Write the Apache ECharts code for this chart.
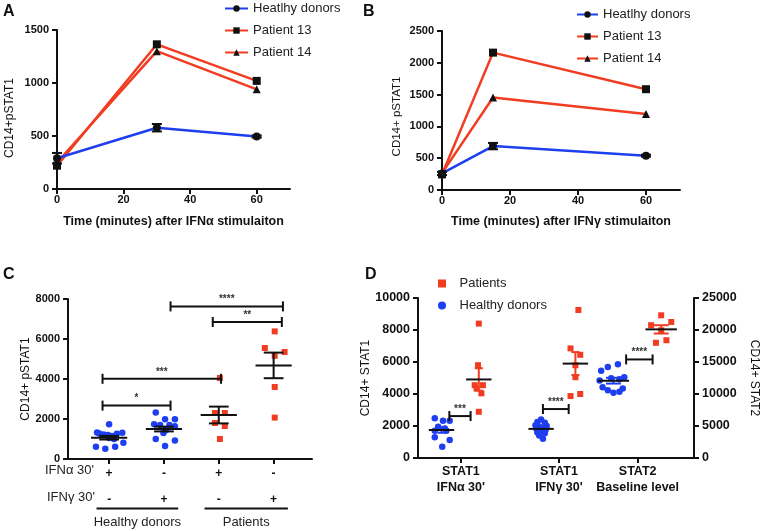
<!DOCTYPE html>
<html><head><meta charset="utf-8">
<script src="https://cdn.jsdelivr.net/npm/echarts@6/dist/echarts.min.js"></script>
<style>html,body{margin:0;padding:0;background:#fff}#c{width:761px;height:531px}</style>
</head><body><div id="c"></div>
<script>
// ---------- Panel A : IFN-alpha time course ----------
const timeA = [0, 30, 60];
const healthyA = [290, 578, 495];
const healthyErrA = [50, 35, 10];
const p13A = [220, 1365, 1020];
const p14A = [250, 1300, 940];
const xTicksA = [0, 20, 40, 60];

// ---------- Panel B : IFN-gamma time course ----------
const timeB = [0, 15, 60];
const healthyB = [260, 690, 540];
const healthyErrB = [25, 50, 15];
const p13B = [245, 2160, 1585];
const p14B = [265, 1455, 1195];
const xTicksB = [0, 20, 40, 60];

// ---------- Panel C : CD14+ pSTAT1 per group ----------
const catC = [1, 2, 3, 4];
const ifnaRow = ['+', '-', '+', '-'];
const ifngRow = ['-', '+', '-', '+'];
const hdIfnaC = [1735, 1320, 1280, 1230, 1200, 1150, 1260, 1310, 1050, 1000, 615, 515, 615, 815];
const hdIfnaCJit = [0.0, -0.22, -0.18, -0.1, -0.02, 0.05, 0.14, 0.24, 0.0, 0.09, -0.24, -0.07, 0.11, 0.26];
const hdIfngC = [2320, 1990, 1990, 1735, 1700, 1700, 1640, 1450, 1300, 1000, 920, 650];
const hdIfngCJit = [-0.15, 0.02, 0.2, -0.18, -0.07, 0.1, 0.2, 0.04, -0.01, -0.15, 0.2, 0.02];
const ptIfnaC = [4050, 2300, 2300, 1800, 1650, 1000];
const ptIfnaCJit = [0.02, -0.07, 0.11, -0.07, 0.11, 0.02];
const ptIfngC = [6380, 5550, 5350, 5160, 3600, 2070];
const ptIfngCJit = [0.02, -0.16, 0.2, 0.02, 0.02, 0.02];
const meanC = [1065, 1500, 2200, 4680];
const semC = [90, 120, 420, 640];
const bracketsC = [[0.88, 2.12, 2670], [0.88, 3.04, 4010], [2.89, 4.15, 6850], [2.12, 4.17, 7630]];
const bracketLabelsC = ['*', '***', '**', '****'];
const groupSpansC = [[0.77, 2.26], [2.74, 4.26]];
const groupNamesC = ['Healthy donors', 'Patients'];

// ---------- Panel D : STAT1 / STAT2 ----------
const posD = [0.63, 1.63, 3.30, 4.22, 5.24, 6.52];   // hd IFNa, pt IFNa, hd IFNg, pt IFNg, hd STAT2, pt STAT2
const labelPosD = [1.15, 3.78, 5.89];
const labelsD = ["STAT1\nIFNα 30'", "STAT1\nIFNγ 30'", "STAT2\nBaseline level"];
const hdIfnaD = [2480, 2330, 2330, 1950, 1850, 1700, 1700, 1290, 1120, 700];
const hdIfnaDJit = [-0.18, 0.04, 0.22, -0.09, 0.09, -0.18, 0.13, -0.18, 0.22, 0.02];
const ptIfnaD = [8400, 5800, 4550, 4550, 4350, 4040, 2890];
const ptIfnaDJit = [0, -0.02, -0.11, 0.11, -0.06, 0.07, 0];
const hdIfngD = [2400, 2250, 2200, 2050, 2000, 1950, 1900, 1800, 1750, 1700, 1600, 1550, 1400, 1200];
const hdIfngDJit = [0, -0.1, 0.1, -0.15, 0.15, -0.05, 0.08, -0.12, 0.12, 0, -0.1, 0.1, -0.05, 0.05];
const ptIfngD = [9250, 6850, 6450, 5800, 5050, 3870, 4000];
const ptIfngDJit = [0.08, -0.13, 0.13, 0, 0, -0.13, 0.13];
const hdStat2D = [14650, 14200, 13650, 12600, 12450, 12300, 12100, 11050, 10850, 10600, 10350, 10200];
const hdStat2DJit = [0.12, -0.15, -0.33, 0.29, -0.06, 0.16, -0.37, -0.29, 0.25, -0.15, 0.16, 0];
const ptStat2D = [22300, 21250, 20750, 19950, 18400, 18000];
const ptStat2DJit = [0, 0.27, -0.27, 0, 0.14, -0.14];
const meanStat1D = [1750, 4910, 1820, 5900];
const semStat1D = [170, 700, 90, 720];
const meanStat2D = [12080, 20100];
const semStat2D = [450, 650];
const bracketsD1 = [[0.84, 1.41, 2620], [3.35, 4.04, 3060]];
const bracketLabelsD1 = ['***', '****'];
const bracketsD2 = [[5.58, 6.29, 15400]];
const bracketLabelsD2 = ['****'];

// ---------- styling ----------
const FONT = '"Liberation Sans", Arial, sans-serif';
const BLUE = '#1e3ff0', RED = '#f23c22', INK = '#111';

function merge(a, b) {
  const out = Array.isArray(a) ? a.slice() : Object.assign({}, a);
  for (const k in b) {
    if (b[k] && typeof b[k] === 'object' && !Array.isArray(b[k]) && a && typeof a[k] === 'object' && !Array.isArray(a[k])) out[k] = merge(a[k], b[k]);
    else out[k] = b[k];
  }
  return out;
}
function ax(extra) {
  return merge({
    type: 'value',
    axisLine: { show: true, onZero: false, lineStyle: { color: INK, width: 2 } },
    axisTick: { show: true, length: 5, lineStyle: { color: INK, width: 2 } },
    axisLabel: { color: INK, fontWeight: 'bold', fontSize: 11, margin: 8, fontFamily: FONT, formatter: (v) => String(v) },
    splitLine: { show: false },
    nameTextStyle: { color: INK, fontSize: 12, fontFamily: FONT }
  }, extra);
}
const pairs = (xs, ys) => xs.map((x, i) => [x, ys[i]]);
const jitter = (c, vals, jit) => vals.map((v, i) => [c + jit[i], v]);

function errRender(cap) {
  return function (params, api) {
    const x = api.value(0), y = api.value(1), e = api.value(2);
    const t = api.coord([x, y + e]), b = api.coord([x, y - e]);
    const st = { stroke: INK, lineWidth: 2 };
    return { type: 'group', children: [
      { type: 'line', shape: { x1: t[0], y1: t[1], x2: b[0], y2: b[1] }, style: st },
      { type: 'line', shape: { x1: t[0] - cap, y1: t[1], x2: t[0] + cap, y2: t[1] }, style: st },
      { type: 'line', shape: { x1: b[0] - cap, y1: b[1], x2: b[0] + cap, y2: b[1] }, style: st }
    ] };
  };
}
function meanRender(mw, cw, semColors) {
  return function (params, api) {
    const x = api.value(0), m = api.value(1), s = api.value(2);
    const a = api.coord([x - mw, m]), b = api.coord([x + mw, m]);
    const t = api.coord([x, m + s]), bt = api.coord([x, m - s]);
    const dx = api.coord([x + cw, m])[0] - api.coord([x, m])[0];
    const sc = semColors ? semColors[params.dataIndex] : INK;
    const st = { stroke: sc, lineWidth: 2 };
    return { type: 'group', children: [
      { type: 'line', shape: { x1: t[0], y1: t[1], x2: bt[0], y2: bt[1] }, style: st },
      { type: 'line', shape: { x1: t[0] - dx, y1: t[1], x2: t[0] + dx, y2: t[1] }, style: st },
      { type: 'line', shape: { x1: bt[0] - dx, y1: bt[1], x2: bt[0] + dx, y2: bt[1] }, style: st },
      { type: 'line', shape: { x1: a[0], y1: a[1], x2: b[0], y2: b[1] }, style: { stroke: INK, lineWidth: 2 } }
    ] };
  };
}
function bracketRender(labels) {
  return function (params, api) {
    const x1 = api.value(0), x2 = api.value(1), y = api.value(2);
    const a = api.coord([x1, y]), b = api.coord([x2, y]);
    const st = { stroke: INK, lineWidth: 2 };
    return { type: 'group', children: [
      { type: 'line', shape: { x1: a[0], y1: a[1], x2: b[0], y2: b[1] }, style: st },
      { type: 'line', shape: { x1: a[0], y1: a[1] - 5, x2: a[0], y2: a[1] + 5 }, style: st },
      { type: 'line', shape: { x1: b[0], y1: b[1] - 5, x2: b[0], y2: b[1] + 5 }, style: st },
      { type: 'text', x: (a[0] + b[0]) / 2, y: a[1] - 2, style: { text: labels[params.dataIndex], fill: '#333', fontSize: 10, fontWeight: 'bold', fontFamily: FONT, align: 'center', verticalAlign: 'bottom' } }
    ] };
  };
}
function groupRender(params, api) {
  const a = api.coord([api.value(0), 0]), b = api.coord([api.value(1), 0]);
  return { type: 'group', children: [
    { type: 'line', shape: { x1: a[0], y1: a[1] + 49.5, x2: b[0], y2: b[1] + 49.5 }, style: { stroke: INK, lineWidth: 2 } },
    { type: 'text', x: (a[0] + b[0]) / 2, y: a[1] + 63, style: { text: groupNamesC[params.dataIndex], fill: '#222', fontSize: 13, fontFamily: FONT, align: 'center', verticalAlign: 'middle' } }
  ] };
}

const lineSeries = (name, xi, data, color, symbol) => ({
  type: 'line', name, xAxisIndex: xi, yAxisIndex: xi, data,
  symbol, symbolSize: 8,
  lineStyle: { color, width: 2.5 }, itemStyle: { color: INK }, z: 3
});
const legendText = { fontSize: 13, color: '#222', fontFamily: FONT };

const option = {
  animation: false,
  backgroundColor: '#fff',
  textStyle: { fontFamily: FONT },
  grid: [
    { left: 57, top: 30, width: 233, height: 159 },
    { left: 442, top: 31, width: 238, height: 159 },
    { left: 68, top: 299, width: 244, height: 160 },
    { left: 418, top: 298, width: 277, height: 160 }
  ],
  xAxis: [
    ax({ gridIndex: 0, min: 0, max: 70, interval: 20, axisTick: { customValues: xTicksA }, axisLabel: { customValues: xTicksA, margin: 5 },
      name: 'Time (minutes) after IFNα stimulaiton', nameLocation: 'middle', nameGap: 26, nameTextStyle: { fontWeight: 'bold', fontSize: 12.5 } }),
    ax({ gridIndex: 1, min: 0, max: 70, interval: 20, axisTick: { customValues: xTicksB }, axisLabel: { customValues: xTicksB, margin: 5 },
      name: 'Time (minutes) after IFNγ stimulaiton', nameLocation: 'middle', nameGap: 25, nameTextStyle: { fontWeight: 'bold', fontSize: 12.5 } }),
    ax({ gridIndex: 2, min: 0.25, max: 4.7, axisTick: { customValues: catC }, axisLabel: { customValues: catC, margin: 1, fontSize: 12, lineHeight: 26.6,
      formatter: (v) => { const i = Math.round(v) - 1; return ifnaRow[i] + '\n' + ifngRow[i]; } } }),
    ax({ gridIndex: 3, min: 0, max: 7.4, axisTick: { customValues: labelPosD }, axisLabel: { customValues: labelPosD, margin: 6, fontSize: 12.5, lineHeight: 16,
      formatter: (v) => { let k = 0; labelPosD.forEach((p, i) => { if (Math.abs(p - v) < Math.abs(labelPosD[k] - v)) k = i; }); return labelsD[k]; } } })
  ],
  yAxis: [
    ax({ gridIndex: 0, min: 0, max: 1500, interval: 500, name: 'CD14+pSTAT1', nameLocation: 'middle', nameRotate: 90, nameGap: 41, nameTextStyle: { padding: [0, 17, 0, 0] } }),
    ax({ gridIndex: 1, min: 0, max: 2500, interval: 500, name: 'CD14+ pSTAT1', nameLocation: 'middle', nameRotate: 90, nameGap: 39, nameTextStyle: { fontSize: 11.5, padding: [0, 12, 0, 0] } }),
    ax({ gridIndex: 2, min: 0, max: 8000, interval: 2000, name: 'CD14+ pSTAT1', nameLocation: 'middle', nameRotate: 90, nameGap: 34 }),
    ax({ gridIndex: 3, min: 0, max: 10000, interval: 2000, axisLabel: { fontSize: 12.5 }, name: 'CD14+ STAT1', nameLocation: 'middle', nameRotate: 90, nameGap: 45 }),
    ax({ gridIndex: 3, position: 'right', min: 0, max: 25000, interval: 5000, axisLabel: { fontSize: 12.5 }, name: 'CD14+ STAT2', nameLocation: 'middle', nameRotate: -90, nameGap: 54 })
  ],
  legend: [
    { data: ['Heatlhy donors', 'Patient 13', 'Patient 14'], orient: 'vertical', left: 224, top: 2, padding: 0, itemWidth: 23, itemHeight: 8, itemGap: 9, textStyle: legendText },
    { data: ['Heatlhy donors', 'Patient 13', 'Patient 14'], orient: 'vertical', left: 576, top: 8, padding: 0, itemWidth: 21, itemHeight: 8, itemGap: 9, textStyle: legendText },
    { data: [{ name: 'Patients', icon: 'path://M0 0H10V10H0Z' }, { name: 'Healthy donors', icon: 'circle' }], orient: 'vertical', left: 438, top: 277, padding: 0,
      itemWidth: 25, itemHeight: 8, itemGap: 9, symbolKeepAspect: true, textStyle: legendText }
  ],
  series: [
    // A
    lineSeries('Patient 13', 0, pairs(timeA, p13A), RED, 'rect'),
    lineSeries('Patient 14', 0, pairs(timeA, p14A), RED, 'triangle'),
    lineSeries('Heatlhy donors', 0, pairs(timeA, healthyA), BLUE, 'circle'),
    { type: 'custom', xAxisIndex: 0, yAxisIndex: 0, renderItem: errRender(5), data: timeA.map((t, i) => [t, healthyA[i], healthyErrA[i]]), z: 4 },
    // B
    lineSeries('Patient 13', 1, pairs(timeB, p13B), RED, 'rect'),
    lineSeries('Patient 14', 1, pairs(timeB, p14B), RED, 'triangle'),
    lineSeries('Heatlhy donors', 1, pairs(timeB, healthyB), BLUE, 'circle'),
    { type: 'custom', xAxisIndex: 1, yAxisIndex: 1, renderItem: errRender(5), data: timeB.map((t, i) => [t, healthyB[i], healthyErrB[i]]), z: 4 },
    // C
    { type: 'scatter', name: 'C hd a', xAxisIndex: 2, yAxisIndex: 2, symbol: 'circle', symbolSize: 6.5, itemStyle: { color: BLUE, opacity: 1 }, data: jitter(catC[0], hdIfnaC, hdIfnaCJit) },
    { type: 'scatter', name: 'C hd g', xAxisIndex: 2, yAxisIndex: 2, symbol: 'circle', symbolSize: 6.5, itemStyle: { color: BLUE, opacity: 1 }, data: jitter(catC[1], hdIfngC, hdIfngCJit) },
    { type: 'scatter', name: 'C pt a', xAxisIndex: 2, yAxisIndex: 2, symbol: 'rect', symbolSize: 6, itemStyle: { color: RED, opacity: 1 }, data: jitter(catC[2], ptIfnaC, ptIfnaCJit) },
    { type: 'scatter', name: 'C pt g', xAxisIndex: 2, yAxisIndex: 2, symbol: 'rect', symbolSize: 6, itemStyle: { color: RED, opacity: 1 }, data: jitter(catC[3], ptIfngC, ptIfngCJit) },
    { type: 'custom', xAxisIndex: 2, yAxisIndex: 2, renderItem: meanRender(0.33, 0.18), data: catC.map((c, i) => [c, meanC[i], semC[i]]), z: 5 },
    { type: 'custom', xAxisIndex: 2, yAxisIndex: 2, renderItem: bracketRender(bracketLabelsC), data: bracketsC, z: 5 },
    { type: 'custom', xAxisIndex: 2, yAxisIndex: 2, renderItem: groupRender, data: groupSpansC, clip: false, z: 5 },
    // D
    { type: 'scatter', name: 'Patients', xAxisIndex: 3, yAxisIndex: 3, symbol: 'rect', symbolSize: 6, itemStyle: { color: RED, opacity: 1 },
      data: jitter(posD[1], ptIfnaD, ptIfnaDJit).concat(jitter(posD[3], ptIfngD, ptIfngDJit)) },
    { type: 'scatter', name: 'Healthy donors', xAxisIndex: 3, yAxisIndex: 3, symbol: 'circle', symbolSize: 6.5, itemStyle: { color: BLUE, opacity: 1 },
      data: jitter(posD[0], hdIfnaD, hdIfnaDJit).concat(jitter(posD[2], hdIfngD, hdIfngDJit)) },
    { type: 'scatter', name: 'Patients', xAxisIndex: 3, yAxisIndex: 4, symbol: 'rect', symbolSize: 6, itemStyle: { color: RED, opacity: 1 }, data: jitter(posD[5], ptStat2D, ptStat2DJit) },
    { type: 'scatter', name: 'Healthy donors', xAxisIndex: 3, yAxisIndex: 4, symbol: 'circle', symbolSize: 6.5, itemStyle: { color: BLUE, opacity: 1 }, data: jitter(posD[4], hdStat2D, hdStat2DJit) },
    { type: 'custom', xAxisIndex: 3, yAxisIndex: 3, renderItem: meanRender(0.34, 0.11, [BLUE, RED, BLUE, RED]),
      data: [posD[0], posD[1], posD[2], posD[3]].map((p, i) => [p, meanStat1D[i], semStat1D[i]]), z: 5 },
    { type: 'custom', xAxisIndex: 3, yAxisIndex: 4, renderItem: meanRender(0.42, 0.2, [BLUE, RED]),
      data: [posD[4], posD[5]].map((p, i) => [p, meanStat2D[i], semStat2D[i]]), z: 5 },
    { type: 'custom', xAxisIndex: 3, yAxisIndex: 3, renderItem: bracketRender(bracketLabelsD1), data: bracketsD1, z: 5 },
    { type: 'custom', xAxisIndex: 3, yAxisIndex: 4, renderItem: bracketRender(bracketLabelsD2), data: bracketsD2, z: 5 }
  ],
  graphic: [
    { type: 'text', left: 3, top: 4, style: { text: 'A', fontSize: 16, fontWeight: 'bold', fill: '#111', fontFamily: FONT } },
    { type: 'text', left: 363, top: 4, style: { text: 'B', fontSize: 16, fontWeight: 'bold', fill: '#111', fontFamily: FONT } },
    { type: 'text', left: 3, top: 267, style: { text: 'C', fontSize: 16, fontWeight: 'bold', fill: '#111', fontFamily: FONT } },
    { type: 'text', left: 365, top: 267, style: { text: 'D', fontSize: 16, fontWeight: 'bold', fill: '#111', fontFamily: FONT } },
    { type: 'text', left: 45, top: 464, style: { text: "IFNα 30'", fontSize: 13, fill: '#222', fontFamily: FONT } },
    { type: 'text', left: 47, top: 491, style: { text: "IFNγ 30'", fontSize: 13, fill: '#222', fontFamily: FONT } }
  ]
};
const chart = echarts.init(document.getElementById('c'));
chart.setOption(option);
</script>
</body></html>
